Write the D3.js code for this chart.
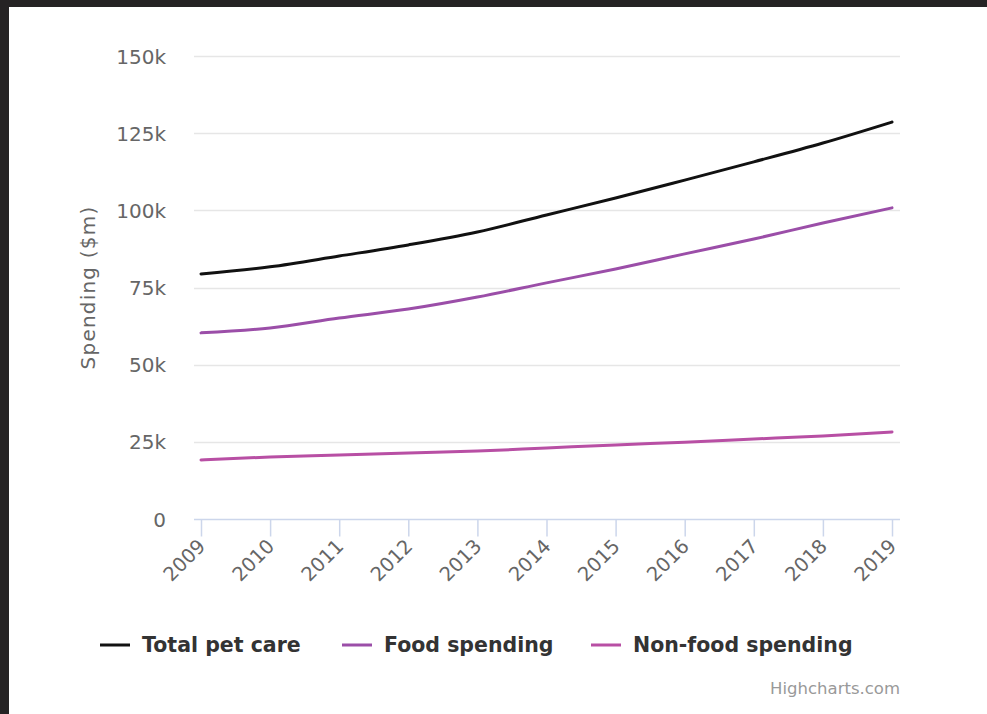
<!DOCTYPE html>
<html>
<head>
<meta charset="utf-8">
<script src="https://cdn.jsdelivr.net/npm/d3@7/dist/d3.min.js"></script>
<style>
  html, body { margin: 0; padding: 0; background: #252324; }
  svg { display: block; }
</style>
</head>
<body>
<svg id="chart" width="987" height="714"></svg>
<script>
// Pet care spending, $m
const years = [2009, 2010, 2011, 2012, 2013, 2014, 2015, 2016, 2017, 2018, 2019];
const totalPetCare = [79400, 81700, 85200, 88800, 93000, 98500, 104000, 109800, 115700, 121800, 128600];
const foodSpending = [60300, 61900, 65100, 68000, 71900, 76500, 81000, 85900, 90700, 95900, 100800];
const nonFoodSpending = [19100, 20100, 20700, 21400, 22000, 23000, 24000, 24900, 25900, 26900, 28200];
const yTicks = [0, 25000, 50000, 75000, 100000, 125000, 150000];
const seriesNames = ["Total pet care", "Food spending", "Non-food spending"];
const seriesColors = ["#111111", "#9b4ea8", "#b84fa4"];

const svg = d3.select("#chart");
const W = 987, H = 714;

// dark frame with white chart area
svg.append("rect").attr("width", W).attr("height", H).attr("fill", "#252324");
svg.append("rect").attr("x", 9).attr("y", 7).attr("width", W - 9).attr("height", H - 7).attr("fill", "#ffffff");

const plot = { left: 194, right: 900, top: 56, bottom: 519 };
const x = d3.scaleLinear().domain([2009, 2019]).range([201, 892]);
const y = d3.scaleLinear().domain([0, 150000]).range([plot.bottom, plot.top]);

const labelFont = "'DejaVu Sans', Verdana, sans-serif";

// horizontal grid lines
svg.append("g").selectAll("line").data(yTicks.filter(d => d > 0)).join("line")
  .attr("x1", plot.left).attr("x2", plot.right)
  .attr("y1", d => Math.round(y(d)) + 0.5).attr("y2", d => Math.round(y(d)) + 0.5)
  .attr("stroke", "#e6e6e6").attr("stroke-width", 1.5);

// y axis labels
const yAxis = d3.axisLeft(y).tickValues(yTicks).tickSize(0).tickPadding(0)
  .tickFormat(d => d === 0 ? "0" : (d / 1000) + "k");
const gy = svg.append("g").attr("transform", `translate(166,0)`).call(yAxis);
gy.select(".domain").remove();
gy.selectAll("text").attr("fill", "#666666").style("font-family", labelFont).style("font-size", "20px").attr("dy", "0.35em");

// y axis title
svg.append("text")
  .attr("transform", `translate(95,${(plot.top + plot.bottom) / 2}) rotate(-90)`)
  .attr("text-anchor", "middle")
  .attr("fill", "#666666")
  .style("font-family", labelFont).style("font-size", "20px").style("letter-spacing", "1.2px")
  .text("Spending ($m)");

// x axis
const xAxis = d3.axisBottom(x).tickValues(years).tickSize(17).tickFormat(d3.format("d"));
const gx = svg.append("g").attr("transform", `translate(0,${plot.bottom + 0.5})`).call(xAxis);
gx.select(".domain").attr("d", `M${plot.left},0H${plot.right}`).attr("stroke", "#ccd6eb").attr("stroke-width", 1.5);
gx.selectAll(".tick line").attr("stroke", "#ccd6eb").attr("stroke-width", 1.5);
gx.selectAll(".tick text")
  .attr("fill", "#666666").style("font-family", labelFont).style("font-size", "19.5px")
  .attr("text-anchor", "end").attr("dy", null).attr("y", 0)
  .attr("transform", "translate(5,28) rotate(-45)");

// series lines
const line = d3.line().x((d, i) => x(years[i])).y(d => y(d)).curve(d3.curveMonotoneX);
const seriesData = [totalPetCare, foodSpending, nonFoodSpending];
svg.append("g").selectAll("path").data(seriesData).join("path")
  .attr("d", d => line(d))
  .attr("fill", "none")
  .attr("stroke", (d, i) => seriesColors[i])
  .attr("stroke-width", 3)
  .attr("stroke-linecap", "round")
  .attr("stroke-linejoin", "round");

// legend
const legendX = [100, 342, 591];
const lg = svg.append("g").selectAll("g").data(seriesNames).join("g")
  .attr("transform", (d, i) => `translate(${legendX[i]},645)`);
lg.append("line").attr("x1", 0).attr("x2", 30).attr("y1", 0).attr("y2", 0)
  .attr("stroke", (d, i) => seriesColors[i]).attr("stroke-width", 3);
lg.append("text").attr("x", 42).attr("dy", "0.35em")
  .attr("fill", "#333333")
  .style("font-family", labelFont).style("font-size", "20.5px").style("font-weight", "bold")
  .text(d => d);

// credits
svg.append("text").attr("x", 900).attr("y", 694).attr("text-anchor", "end")
  .attr("fill", "#999999").style("font-family", labelFont).style("font-size", "16.5px")
  .text("Highcharts.com");
</script>
</body>
</html>
